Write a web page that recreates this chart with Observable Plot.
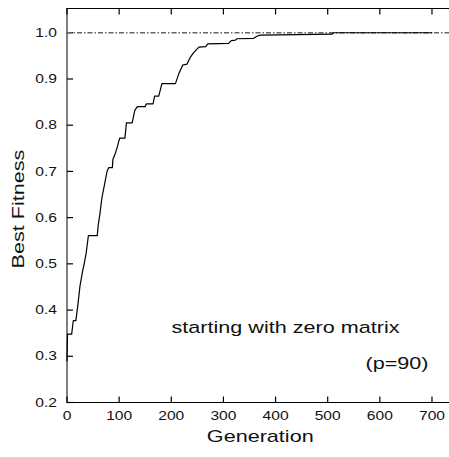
<!DOCTYPE html>
<html>
<head>
<meta charset="utf-8">
<script src="https://cdn.jsdelivr.net/npm/d3@7"></script>
<script src="https://cdn.jsdelivr.net/npm/@observablehq/plot@0.6"></script>
<style>
  html, body { margin: 0; padding: 0; background: #fff; }
</style>
</head>
<body>
<div id="chart"></div>
<script>
// Generation values (breakpoints of the best-fitness trace)
const generation = [0, 1, 9, 12, 17, 20, 25, 30, 33, 37, 41, 58, 60, 63, 67, 72, 77, 80, 87, 88, 92, 96, 101, 111, 114, 125, 130, 135, 150, 152, 165, 168, 176, 182, 208, 214, 222, 230, 236, 243, 253, 266, 270, 310, 315, 323, 326, 358, 365, 371, 440, 508, 512, 700];
// Best fitness at each breakpoint
const bestFitness = [0.29, 0.348, 0.348, 0.377, 0.377, 0.403, 0.453, 0.485, 0.5, 0.525, 0.561, 0.561, 0.585, 0.607, 0.643, 0.672, 0.701, 0.708, 0.708, 0.726, 0.737, 0.751, 0.772, 0.772, 0.805, 0.805, 0.832, 0.840, 0.840, 0.846, 0.846, 0.863, 0.863, 0.890, 0.890, 0.910, 0.930, 0.932, 0.946, 0.957, 0.969, 0.970, 0.976, 0.977, 0.983, 0.984, 0.987, 0.988, 0.993, 0.995, 0.996, 0.997, 1.0, 1.0];
// Reference optimum
const optimum = [1.0];
// Tick values
const xTicks = [0, 100, 200, 300, 400, 500, 600, 700];
const yTicks = [0.2, 0.3, 0.4, 0.5, 0.6, 0.7, 0.8, 0.9, 1.0];
// Text
const xLabel = "Generation";
const yLabel = "Best Fitness";
const note1 = "starting with zero matrix";
const note2 = "(p=90)";

const data = generation.map((g, i) => ({g, f: bestFitness[i]}));
const xTickData = xTicks.map(v => ({v}));
const yTickData = yTicks.map(v => ({v}));
const font = "'Liberation Sans', Arial, sans-serif";
const W = 449, H = 457, ML = 66.5, MR = 0, MT = 8, MB = 55;
const xDomain = [0, 733.6], yDomain = [0.2, 1.0525];
const frameW = W - ML - MR, frameH = H - MT - MB, tickPx = 6;
// tick length converted from pixels to data units of each scale
const tx = tickPx * (xDomain[1] - xDomain[0]) / frameW;
const ty = tickPx * (yDomain[1] - yDomain[0]) / frameH;

const chart = Plot.plot({
  width: W,
  height: H,
  marginLeft: ML,
  marginRight: MR,
  marginTop: MT,
  marginBottom: MB,
  style: {fontFamily: font, background: "#fff", color: "#111", overflow: "visible"},
  x: {domain: xDomain},
  y: {domain: yDomain},
  marks: [
    // frame: left, bottom, top
    Plot.ruleX([xDomain[0]], {stroke: "#000", strokeWidth: 1}),
    Plot.ruleY([yDomain[0]], {stroke: "#000", strokeWidth: 1}),
    Plot.ruleY([yDomain[1]], {stroke: "#000", strokeWidth: 1}),
    // inward ticks: bottom, top, left
    Plot.link(xTickData, {x1: "v", x2: "v", y1: () => yDomain[0], y2: () => yDomain[0] + ty, stroke: "#000", strokeWidth: 1.2}),
    Plot.link(xTickData, {x1: "v", x2: "v", y1: () => yDomain[1] - ty, y2: () => yDomain[1], stroke: "#000", strokeWidth: 1.2}),
    Plot.link(yTickData, {y1: "v", y2: "v", x1: () => xDomain[0], x2: () => xDomain[0] + tx, stroke: "#000", strokeWidth: 1.2}),
    // tick labels
    Plot.axisX({ticks: xTicks, tickSize: 0, tickPadding: 8, anchor: "bottom", label: null, fontSize: 13, fill: "#111", className: "ticklab"}),
    Plot.axisY({ticks: yTicks, tickSize: 0, tickPadding: 10, anchor: "left", label: null, fontSize: 13, fill: "#111", tickFormat: d3.format(".1f"), className: "ticklab"}),
    // optimum reference line
    Plot.ruleY(optimum, {stroke: "#666", strokeWidth: 1.3, strokeDasharray: "5,2,1.5,2"}),
    // fitness trace
    Plot.line(data, {x: "g", y: "f", stroke: "#000", strokeWidth: 1.2}),
    // axis titles
    Plot.text([xLabel], {frameAnchor: "bottom", dx: 2, dy: 39, fontSize: 17, fill: "#111"}),
    Plot.text([yLabel], {frameAnchor: "left", dx: -48, dy: 63, rotate: -90, textAnchor: "start", fontSize: 17, fill: "#111"}),
    // annotations
    Plot.text([note1], {frameAnchor: "bottom-left", dx: 104.5, dy: -70, textAnchor: "start", fontSize: 17, fill: "#111"}),
    Plot.text([note2], {frameAnchor: "bottom-right", dx: -21, dy: -34, textAnchor: "end", fontSize: 17, fill: "#111"})
  ]
});
document.getElementById("chart").appendChild(chart);

// The original typeface is set wider than Arial: stretch each label horizontally.
d3.select(chart).selectAll("text").each(function () {
  const len = this.getComputedTextLength();
  const small = this.closest(".ticklab") !== null;
  if (len > 0) {
    this.setAttribute("textLength", (len * (small ? 1.2 : 1.27)).toFixed(1));
    this.setAttribute("lengthAdjust", "spacingAndGlyphs");
  }
});
</script>
</body>
</html>
